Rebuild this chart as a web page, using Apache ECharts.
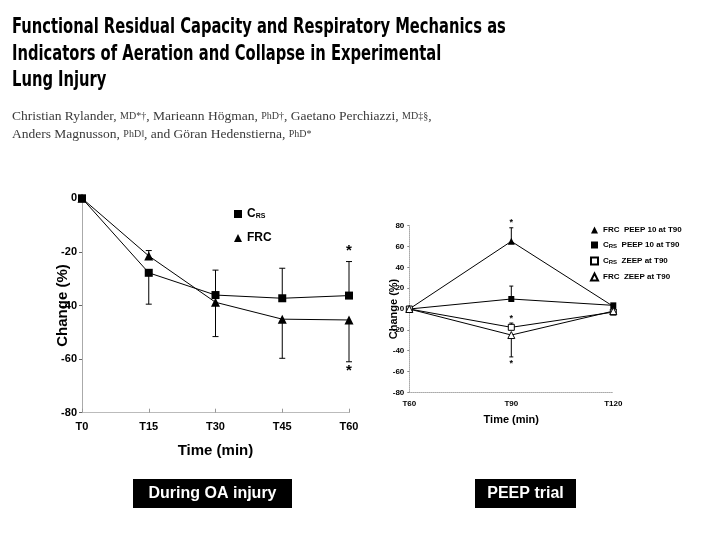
<!DOCTYPE html>
<html><head><meta charset="utf-8">
<script src="https://cdn.jsdelivr.net/npm/echarts@6/dist/echarts.min.js"></script>
<style>html,body{margin:0;padding:0;background:#fff}#c{width:720px;height:540px}</style>
</head><body><div id="c"></div>
<script>
// ---- data ----
const leftCats = ['T0', 'T15', 'T30', 'T45', 'T60'];
const leftCRS = [0, -27.8, -36.1, -37.3, -36.3];
const leftFRC = [0, -21.5, -38.8, -45.1, -45.4];
const leftErrCRS = [[1, -27.8, -39.5], [2, -36.1, -26.8], [3, -37.3, -26.1], [4, -36.3, -23.6]];
const leftErrFRC = [[1, -21.5, -19.5], [2, -38.8, -51.6], [3, -45.1, -59.7], [4, -45.4, -61]];
const leftStars = [[4, -19.5], [4, -64.5]];

const rightCats = ['T60', 'T90', 'T120'];
const rFRCpeep = [0, 65, 2.5];
const rCRSpeep = [0, 9.6, 3.5];
const rCRSzeep = [0, -17.6, -3];
const rFRCzeep = [0, -25, -2];
const rightErr = [[1, 65, 78], [1, 9.6, 22], [1, -17.6, -13.5], [1, -25, -46]];
const rightStars = [[1, 83], [1, -9.5], [1, -52]];

const chart = echarts.init(document.getElementById('c'));

function errRender(cap) {
  return function (params, api) {
    const x = api.value(0), a = api.value(1), b = api.value(2);
    const p1 = api.coord([x, a]), p2 = api.coord([x, b]);
    return { type: 'group', children: [
      { type: 'line', shape: { x1: p1[0], y1: p1[1], x2: p2[0], y2: p2[1] }, style: { stroke: '#000', lineWidth: 1 } },
      { type: 'line', shape: { x1: p2[0] - cap, y1: p2[1], x2: p2[0] + cap, y2: p2[1] }, style: { stroke: '#000', lineWidth: 1 } }
    ]};
  };
}
function starRender(size) {
  return function (params, api) {
    const p = api.coord([api.value(0), api.value(1)]);
    return { type: 'text', x: p[0], y: p[1], style: { text: '*', fill: '#000', font: 'bold ' + size + 'px "Liberation Sans", Arial', align: 'center', verticalAlign: 'middle' } };
  };
}
function legendFmt(name) {
  const parts = name.split('|');
  let s = parts[0] === 'CRS' ? '{b|C}{s|RS}' : '{b|' + parts[0] + '}';
  if (parts[1]) s += '{n|  ' + parts[1] + '}';
  return s;
}

const lineBase = { type: 'line', lineStyle: { color: '#000', width: 1 }, symbolSize: 7, z: 3, animation: false };

chart.setOption({
  animation: false,
  textStyle: { fontFamily: '"Liberation Sans", Arial, sans-serif' },
  grid: [
    { left: 82, top: 198.3, width: 267, height: 214.4 },
    { left: 409.3, top: 225.7, width: 204, height: 166.6 }
  ],
  xAxis: [
    { gridIndex: 0, type: 'category', data: leftCats, boundaryGap: false,
      axisLine: { onZero: false, lineStyle: { color: '#bbb', width: 1 } },
      axisTick: { show: true, inside: true, length: 4, lineStyle: { color: '#999' } },
      axisLabel: { color: '#000', fontWeight: 'bold', fontSize: 11, margin: 9 },
      name: 'Time (min)', nameLocation: 'middle', nameGap: 31, nameMoveOverlap: false,
      nameTextStyle: { color: '#000', fontWeight: 'bold', fontSize: 15 } },
    { gridIndex: 1, type: 'category', data: rightCats, boundaryGap: false,
      axisLine: { onZero: false, lineStyle: { color: '#aaa', width: 1, type: 'dotted' } },
      axisTick: { show: false },
      axisLabel: { color: '#000', fontWeight: 'bold', fontSize: 8, margin: 7 },
      name: 'Time (min)', nameLocation: 'middle', nameGap: 22, nameMoveOverlap: false,
      nameTextStyle: { color: '#000', fontWeight: 'bold', fontSize: 11 } }
  ],
  yAxis: [
    { gridIndex: 0, type: 'value', min: -80, max: 0, interval: 20,
      axisLine: { show: true, lineStyle: { color: '#aaa', width: 1 } },
      axisTick: { show: true, length: 3, lineStyle: { color: '#666' } },
      splitLine: { show: false },
      axisLabel: { color: '#000', fontWeight: 'bold', fontSize: 11, margin: 5 },
      name: 'Change (%)', nameLocation: 'middle', nameRotate: 90, nameGap: 12, nameMoveOverlap: false,
      nameTextStyle: { color: '#000', fontWeight: 'bold', fontSize: 15 } },
    { gridIndex: 1, type: 'value', min: -80, max: 80, interval: 20,
      axisLine: { show: true, lineStyle: { color: '#aaa', width: 1, type: 'dotted' } },
      axisTick: { show: true, length: 2, lineStyle: { color: '#888' } },
      splitLine: { show: false },
      axisLabel: { color: '#000', fontWeight: 'bold', fontSize: 8, margin: 5 },
      name: 'Change (%)', nameLocation: 'middle', nameRotate: 90, nameGap: 10, nameMoveOverlap: false,
      nameTextStyle: { color: '#000', fontWeight: 'bold', fontSize: 11 } }
  ],
  legend: [
    { orient: 'vertical', left: 229, top: 203, itemWidth: 8, itemHeight: 8, itemGap: 12,
      data: [{ name: 'CRS', icon: 'rect' }, { name: 'FRC', icon: 'triangle' }],
      formatter: legendFmt,
      textStyle: { rich: {
        b: { fontSize: 12, fontWeight: 'bold', color: '#000' },
        s: { fontSize: 7, fontWeight: 'bold', color: '#000', verticalAlign: 'bottom', padding: [5, 0, 0, 0] },
        n: { fontSize: 12, fontWeight: 'bold', color: '#000' } } } },
    { orient: 'vertical', left: 585, top: 221, itemWidth: 7, itemHeight: 7, itemGap: 7,
      data: [{ name: 'FRC|PEEP 10 at T90', icon: 'triangle' }, { name: 'CRS|PEEP 10 at T90', icon: 'rect' },
             { name: 'CRS|ZEEP at T90', icon: 'rect' }, { name: 'FRC|ZEEP at T90', icon: 'triangle' }],
      formatter: legendFmt,
      textStyle: { rich: {
        b: { fontSize: 8, fontWeight: 'bold', color: '#000' },
        s: { fontSize: 6, fontWeight: 'bold', color: '#000', padding: [3, 0, 0, 0] },
        n: { fontSize: 8, fontWeight: 'bold', color: '#000' } } } }
  ],
  graphic: [
    { type: 'text', x: 12, y: 14, scaleX: 0.78, style: { text: 'Functional Residual Capacity and Respiratory Mechanics as\nIndicators of Aeration and Collapse in Experimental\nLung Injury',
      font: 'bold 21px "Liberation Sans Narrow", "DejaVu Sans Condensed", sans-serif', fill: '#000', lineHeight: 26.7 } },
    { type: 'text', x: 12, y: 107, style: {
      text: '{n|Christian Rylander, }{d|MD*†}{n|, Marieann Högman, }{d|PhD†}{n|, Gaetano Perchiazzi, }{d|MD‡§}{n|,}\n{n|Anders Magnusson, }{d|PhD‖}{n|, and Göran Hedenstierna, }{d|PhD*}',
      fill: '#333', lineHeight: 18,
      rich: { n: { font: '13.5px "Liberation Serif", serif', fill: '#3a3a3a', lineHeight: 18 },
              d: { font: '10px "Liberation Serif", serif', fill: '#3a3a3a', lineHeight: 18 } } } },
    { type: 'rect', shape: { x: 133, y: 479, width: 159, height: 29 }, style: { fill: '#000' } },
    { type: 'text', x: 212.5, y: 494, style: { text: 'During OA injury', font: 'bold 16px "Liberation Sans", Arial', fill: '#fff', align: 'center', verticalAlign: 'middle' } },
    { type: 'rect', shape: { x: 475, y: 479, width: 101, height: 29 }, style: { fill: '#000' } },
    { type: 'text', x: 525.5, y: 494, style: { text: 'PEEP trial', font: 'bold 16px "Liberation Sans", Arial', fill: '#fff', align: 'center', verticalAlign: 'middle' } }
  ],
  series: [
    Object.assign({}, lineBase, { name: 'CRS', xAxisIndex: 0, yAxisIndex: 0, data: leftCRS, symbol: 'rect', symbolSize: 8, itemStyle: { color: '#000' } }),
    Object.assign({}, lineBase, { name: 'FRC', xAxisIndex: 0, yAxisIndex: 0, data: leftFRC, symbol: 'triangle', symbolSize: 9, itemStyle: { color: '#000' } }),
    { type: 'custom', xAxisIndex: 0, yAxisIndex: 0, renderItem: errRender(3), data: leftErrCRS, encode: { x: 0, y: [1, 2] }, z: 2 },
    { type: 'custom', xAxisIndex: 0, yAxisIndex: 0, renderItem: errRender(3), data: leftErrFRC, encode: { x: 0, y: [1, 2] }, z: 2 },
    { type: 'custom', xAxisIndex: 0, yAxisIndex: 0, renderItem: starRender(15), data: leftStars, encode: { x: 0, y: 1 }, z: 4 },

    Object.assign({}, lineBase, { name: 'FRC|PEEP 10 at T90', xAxisIndex: 1, yAxisIndex: 1, data: rFRCpeep, symbol: 'triangle', symbolSize: 7, itemStyle: { color: '#000' } }),
    Object.assign({}, lineBase, { name: 'CRS|PEEP 10 at T90', xAxisIndex: 1, yAxisIndex: 1, data: rCRSpeep, symbol: 'rect', symbolSize: 6, itemStyle: { color: '#000' } }),
    Object.assign({}, lineBase, { name: 'CRS|ZEEP at T90', xAxisIndex: 1, yAxisIndex: 1, data: rCRSzeep, symbol: 'rect', symbolSize: 6, itemStyle: { color: '#fff', borderColor: '#000', borderWidth: 1 } }),
    Object.assign({}, lineBase, { name: 'FRC|ZEEP at T90', xAxisIndex: 1, yAxisIndex: 1, data: rFRCzeep, symbol: 'triangle', symbolSize: 7, itemStyle: { color: '#fff', borderColor: '#000', borderWidth: 1 } }),
    { type: 'custom', xAxisIndex: 1, yAxisIndex: 1, renderItem: errRender(2), data: rightErr, encode: { x: 0, y: [1, 2] }, z: 2 },
    { type: 'custom', xAxisIndex: 1, yAxisIndex: 1, renderItem: starRender(9), data: rightStars, encode: { x: 0, y: 1 }, z: 4 }
  ]
});
</script></body></html>
